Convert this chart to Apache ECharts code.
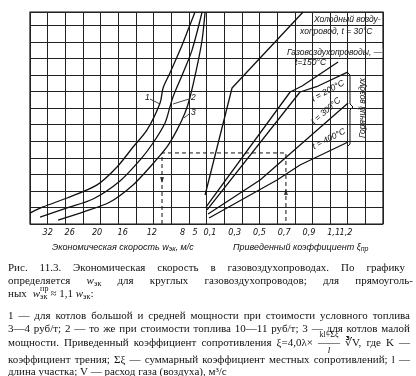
<!DOCTYPE html>
<html>
<head>
<meta charset="utf-8">
<script src="https://cdn.jsdelivr.net/npm/echarts@6/dist/echarts.min.js"></script>
<style>
html, body { margin: 0; padding: 0; background: #fff; }
#chart { width: 416px; height: 376px; }
</style>
</head>
<body>
<div id="chart"></div>
<script>
// Левая шкала: экономическая скорость (нелинейная), положение в клетках сетки
var wTicks = ['32', '26', '20', '16', '12', '8', '5'];
var wTickCells = [1.0, 2.25, 3.8, 5.25, 6.9, 8.65, 9.35];
// Правая шкала: приведенный коэффициент
var xiTicks = [0.1, 0.3, 0.5, 0.7, 0.9, 1.1, 1.2];

// Кривые 1, 2, 3 (клетки по x, клетки по y)
var curve1 = [[0, 0.66], [0.74, 1.03], [2.1, 1.57], [3.8, 2.36], [4.93, 3.44], [5.84, 4.65], [6.63, 5.68],
	[7.37, 7.31], [7.54, 8.21], [7.93, 9.12], [8.5, 10.5], [8.95, 11.71], [9.35, 12.8]];
var curve2 = [[0.57, 0.42], [2.1, 0.97], [3.57, 1.51], [5.1, 2.6], [6.23, 3.86], [6.97, 4.89], [7.65, 6.1],
	[7.93, 7.07], [8.1, 7.67], [8.67, 9.12], [9.18, 10.5], [9.75, 12.8]];
var curve3 = [[1.59, 0.24], [3.0, 0.72], [4.53, 1.33], [5.84, 2.36], [6.8, 3.44], [7.76, 4.65], [8.33, 5.68],
	[8.78, 6.7], [9.07, 7.67], [9.46, 9.48], [9.75, 11.11], [9.92, 12.8]];

// Прямые справа (коэффициент, клетки по y)
var coldAir30 = [[0.06, 1.75], [0.278, 8.21], [0.853, 12.8]];
var gasAir150 = [[0.068, 1.03], [0.748, 7.97], [0.845, 8.33], [1.136, 9.78]];
var hotAir200 = [[0.076, 0.85], [0.828, 7.97], [0.974, 8.33], [1.217, 9.18]];
var hotAir300 = [[0.084, 0.6], [0.505, 2.66], [1.217, 7.31]];
var hotAir400 = [[0.092, 0.36], [0.642, 2.66], [0.828, 3.56], [1.217, 4.95]];

// Пример пользования графиком (пунктир)
var exampleRoute = [[7.48, 0], [7.48, 4.29], [14.5, 4.29], [14.5, 0]];
var exampleArrows = [[7.48, 2.66, 180], [14.5, 1.93, 0]];

var captionLines = [
	'Рис. 11.3. Экономическая скорость в газовоздухопроводах. По графику',
	'определяется w_эк для круглых газовоздухопроводов; для прямоуголь-',
	'ных',
	'1 — для котлов большой и средней мощности при стоимости условного топлива',
	'3—4 руб/т; 2 — то же при стоимости топлива 10—11 руб/т; 3 — для котлов малой',
	'мощности. Приведенный коэффициент сопротивления ξ=4,0λ× —— ∛V, где K —',
	'коэффициент трения; Σξ — суммарный коэффициент местных сопротивлений; l —',
	'длина участка; V — расход газа (воздуха), м³/с'
];

var CAP_SIZE = 11;
var CAP_FONT = CAP_SIZE + 'px "Liberation Serif"';
var SUB_FONT = '8px "Liberation Serif"';
var LBL_FONT = 'italic 8.5px "Liberation Sans"';
var NARROW = '"Liberation Sans Narrow", "DejaVu Sans Condensed", "Liberation Sans"';
var TICK_FONT = 'italic 9px ' + NARROW;
var measureCtx = document.createElement('canvas').getContext('2d');

function textEl(str, x, y, font, extra) {
	var st = { text: str, font: font, fill: '#111', verticalAlign: 'middle', textVerticalAlign: 'middle' };
	for (var k in extra) st[k] = extra[k];
	return { type: 'text', x: x, y: y, style: st };
}

function measure(str, font) {
	measureCtx.font = font;
	return measureCtx.measureText(str).width;
}

// слово; "w_эк" -> w с нижним индексом
function wordEls(w, x, y) {
	var p = w.indexOf('_');
	if (p < 0) return { els: [textEl(w, x, y, CAP_FONT)], width: measure(w, CAP_FONT) };
	var base = w.slice(0, p), sub = w.slice(p + 1);
	var bw = measure(base, 'italic ' + CAP_FONT);
	return {
		els: [textEl(base, x, y, 'italic ' + CAP_FONT), textEl(sub, x + bw, y + 3, SUB_FONT)],
		width: bw + measure(sub, SUB_FONT)
	};
}

// строка подписи с выравниванием по ширине
function captionLine(str, x, y, width) {
	var words = str.split(' ');
	var widths = words.map(function (w) { return wordEls(w, 0, 0).width; });
	var total = widths.reduce(function (s, v) { return s + v; }, 0);
	var gap = width ? (width - total) / Math.max(1, words.length - 1) : measure(' ', CAP_FONT);
	var cx = x, res = [], pos = {};
	words.forEach(function (w, i) {
		res = res.concat(wordEls(w, cx, y).els);
		pos[w] = [cx, widths[i]];
		cx += widths[i] + gap;
	});
	return { els: res, pos: pos, end: cx - gap };
}

var xiPerCell = 0.1428, xiZeroCell = 9.5, nCells = 20;

var chart = echarts.init(document.getElementById('chart'));

function lineSeries(data, axis, smooth) {
	return {
		type: 'line', xAxisIndex: axis, data: data, smooth: smooth, symbol: 'none',
		lineStyle: { color: '#111', width: 1.3 }, silent: true
	};
}

function centered(str, x, y, rot, extra) {
	var st = { text: str, font: LBL_FONT, fill: '#111', align: 'center', verticalAlign: 'middle', textAlign: 'center', textVerticalAlign: 'middle' };
	for (var k in extra) st[k] = extra[k];
	return { type: 'text', x: x, y: y, rotation: rot, style: st };
}

var graphics = [];
// подписи кривых
graphics.push(textEl('1', 145, 98, LBL_FONT));
graphics.push(textEl('2', 191, 98, LBL_FONT));
graphics.push(textEl('3', 191, 113, LBL_FONT));
graphics.push({ type: 'polyline', shape: { points: [[150, 99], [160, 104]] }, style: { stroke: '#111', lineWidth: 0.8 } });
graphics.push({ type: 'polyline', shape: { points: [[189, 99], [173, 104]] }, style: { stroke: '#111', lineWidth: 0.8 } });
graphics.push({ type: 'polyline', shape: { points: [[189, 114], [184, 118]] }, style: { stroke: '#111', lineWidth: 0.8 } });
// надписи у прямых
graphics.push(textEl('Холодный возду-', 314, 20, LBL_FONT, { backgroundColor: '#fff' }));
graphics.push(textEl('хопровод, t = 30°C', 300, 32, LBL_FONT, { backgroundColor: '#fff' }));
graphics.push(textEl('Газовоздухопроводы, —', 287, 53, LBL_FONT, { backgroundColor: '#fff' }));
graphics.push(textEl('t=150°C', 295, 63, LBL_FONT, { backgroundColor: '#fff' }));
graphics.push(centered('t = 200°C', 328, 91, 0.5));
graphics.push(centered('t = 300°C', 326, 111, 0.72));
graphics.push(centered('t = 400°C', 329, 139, 0.47));
graphics.push({ type: 'polyline', shape: { points: [[347, 72], [350, 75], [350, 104], [353, 107], [350, 110], [350, 144], [347, 147]] },
	style: { stroke: '#111', lineWidth: 1, fill: null } });
graphics.push(centered('Горячий воздух', 363, 108, Math.PI / 2, { backgroundColor: '#fff' }));
// названия осей
var richAxis = { a: { font: 'italic 9px "Liberation Sans"', fill: '#111' }, s: { font: 'italic 7px "Liberation Sans"', fill: '#111', padding: [5, 0, 0, 0] } };
graphics.push({ type: 'text', x: 52, y: 247, style: { text: '{a|Экономическая скорость w}{s|эк}{a|, м/с}', fill: '#111', verticalAlign: 'middle', rich: richAxis } });
graphics.push({ type: 'text', x: 233, y: 247, style: { text: '{a|Приведенный коэффициент ξ}{s|пр}', fill: '#111', verticalAlign: 'middle', rich: richAxis } });

// подрисуночная подпись
var capY = [268, 281, 294, 316, 329, 343, 360, 372];
var capW = [397, 405, 0, 402, 402, 402, 402, 0];
captionLines.forEach(function (s, i) {
	var ln = captionLine(s, 8, capY[i], capW[i]);
	graphics = graphics.concat(ln.els);
	if (i === 2) {
		// w_эк^пр ≈ 1,1 w_эк:
		var x = ln.end + 6, y = capY[i];
		var bw = measure('w', 'italic ' + CAP_FONT);
		graphics.push(textEl('w', x, y, 'italic ' + CAP_FONT));
		graphics.push(textEl('пр', x + bw, y - 5, SUB_FONT));
		graphics.push(textEl('эк', x + bw, y + 3, SUB_FONT));
		x += bw + measure('эк', SUB_FONT) + 3;
		var t = '≈ 1,1 ';
		graphics.push(textEl(t, x, y, CAP_FONT));
		x += measure(t, CAP_FONT);
		var w2 = wordEls('w_эк', x, y);
		graphics = graphics.concat(w2.els);
		graphics.push(textEl(':', x + w2.width, y, CAP_FONT));
	}
	if (i === 5 && ln.pos['——']) {
		var p = ln.pos['——'];
		graphics.push(centered('kl+Σξ', p[0] + p[1] / 2, capY[i] - 8, 0, { font: SUB_FONT }));
		graphics.push(centered('l', p[0] + p[1] / 2, capY[i] + 8, 0, { font: 'italic 9px "Liberation Serif"' }));
	}
});

var option = {
	animation: false,
	backgroundColor: '#fff',
	grid: { left: 30, top: 12, width: 353, height: 212, show: true, borderColor: '#111', borderWidth: 1.2, backgroundColor: 'transparent' },
	xAxis: [
		{
			type: 'value', position: 'bottom', min: 0, max: nCells, interval: 1,
			axisLine: { show: false }, axisTick: { show: false },
			splitLine: { show: true, lineStyle: { color: '#222', width: 1 } },
			axisLabel: {
				customValues: wTickCells, margin: 4, hideOverlap: false,
				fontFamily: NARROW, fontStyle: 'italic', fontSize: 9, color: '#111',
				formatter: function (v) {
					var i = wTickCells.indexOf(v);
					return i >= 0 ? wTicks[i] : '';
				}
			}
		},
		{
			type: 'value', position: 'bottom', offset: 0,
			min: -xiZeroCell * xiPerCell, max: (nCells - xiZeroCell) * xiPerCell,
			axisLine: { show: false }, axisTick: { show: false }, splitLine: { show: false },
			axisLabel: { show: false }
		}
	],
	yAxis: {
		type: 'value', min: 0, max: 12.8, interval: 1,
		axisLine: { show: false }, axisTick: { show: false }, axisLabel: { show: false },
		splitLine: { show: true, lineStyle: { color: '#222', width: 1 } }
	},
	series: [
		lineSeries(curve1, 0, 0.3),
		lineSeries(curve2, 0, 0.3),
		lineSeries(curve3, 0, 0.3),
		lineSeries(coldAir30, 1, false),
		lineSeries(gasAir150, 1, false),
		lineSeries(hotAir200, 1, false),
		lineSeries(hotAir300, 1, false),
		lineSeries(hotAir400, 1, false),
		{
			type: 'line', xAxisIndex: 0, data: exampleRoute, symbol: 'none', silent: true,
			lineStyle: { color: '#111', width: 1, type: [4, 3] }
		},
		{
			type: 'scatter', xAxisIndex: 0, symbol: 'triangle', symbolSize: [4, 6], silent: true,
			itemStyle: { color: '#111' },
			data: exampleArrows.map(function (a) { return { value: [a[0], a[1]], symbolRotate: a[2] }; })
		}
	],
	graphic: graphics
};

chart.setOption(option);

// подписи шкалы ξ ставим по её масштабу
var xiLabelY = chart.convertToPixel({ yAxisIndex: 0 }, 0) + 9;
xiTicks.forEach(function (v) {
	var px = chart.convertToPixel({ xAxisIndex: 1 }, v);
	graphics.push(centered(String(v).replace('.', ','), px, xiLabelY, 0, { font: TICK_FONT }));
});
chart.setOption({ graphic: graphics });
</script>
</body>
</html>
